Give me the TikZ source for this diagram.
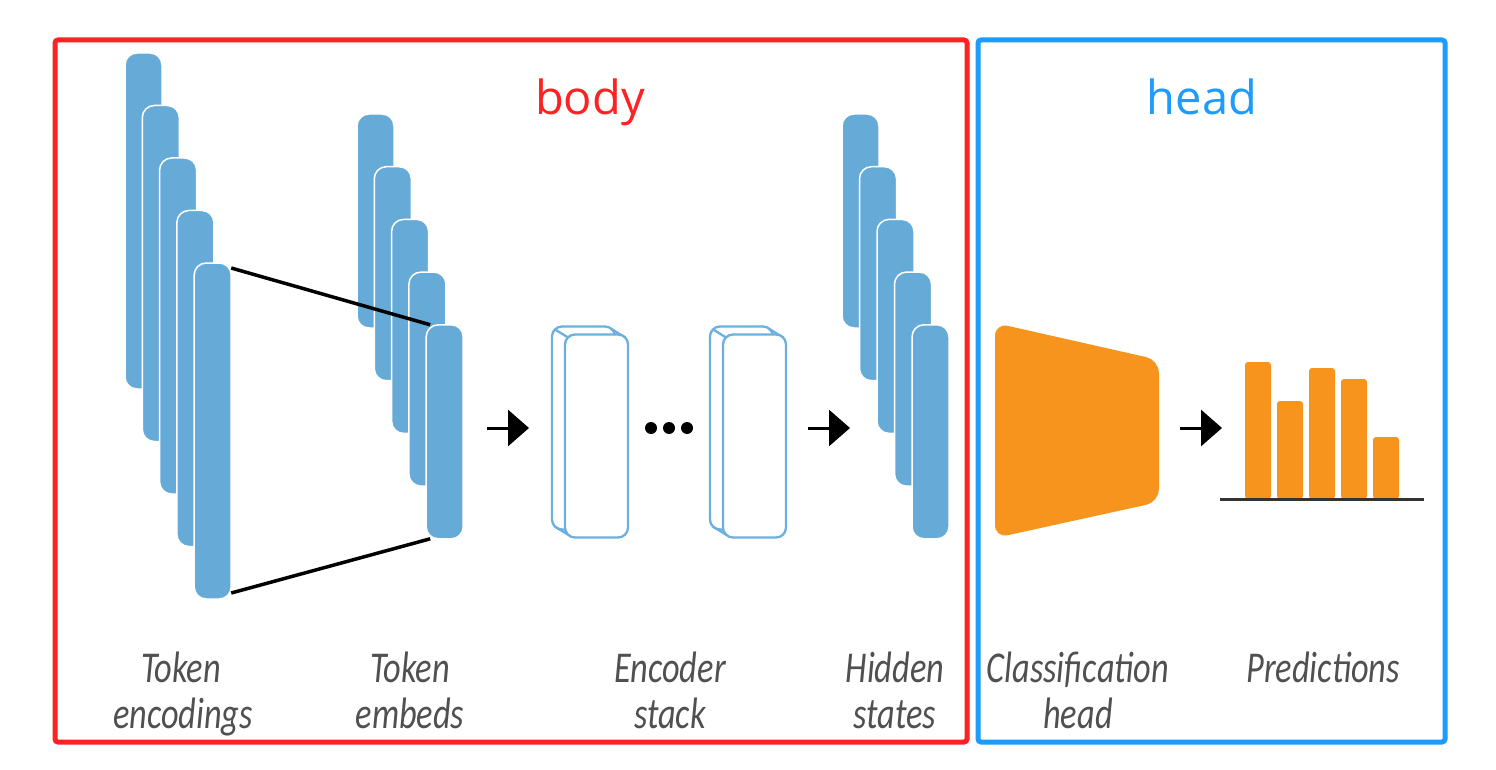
\documentclass[tikz,border=0pt]{standalone}
\usepackage{fontspec}
\usetikzlibrary{arrows.meta}
\newfontfamily\labfont[FakeStretch=0.78]{Carlito}
\newfontfamily\titlefont{Open Sans}
\definecolor{barblue}{HTML}{66ABD7}
\definecolor{encblue}{HTML}{6DB0DD}
\definecolor{framered}{HTML}{FF2222}
\definecolor{frameblue}{HTML}{1E9BFF}
\definecolor{clsorange}{HTML}{F7941D}
\definecolor{labgray}{HTML}{505050}
\definecolor{axisgray}{HTML}{333333}
\begin{document}
\begin{tikzpicture}[x=1pt,y=-1pt,
  vecbar/.style={draw=white, line width=1.5pt, fill=barblue, rounded corners=12pt,
    minimum width=37pt, inner sep=0pt, outer sep=0pt},
  encbox/.style={draw=encblue, line width=2.3pt, fill=white, rounded corners=10pt,
    minimum width=63pt, minimum height=203pt, inner sep=0pt, outer sep=0pt},
  encline/.style={draw=encblue, line width=2.3pt},
  predbar/.style={fill=clsorange, rounded corners=3pt, minimum width=26pt,
    inner sep=0pt, outer sep=0pt, anchor=south west},
  dotnode/.style={circle, fill=black, minimum size=12pt, inner sep=0pt},
  flowarrow/.style={line width=3pt, -{Triangle[length=21pt,width=36pt]}},
  link/.style={line width=3.5pt, black},
  lab/.style={font=\labfont\itshape\fontsize{44}{50}\selectfont, text=labgray,
    anchor=base, inner sep=0pt},
  ttl/.style={font=\titlefont\fontsize{47}{54}\selectfont, anchor=base, inner sep=0pt}
]
\useasboundingbox (0,0) rectangle (1496,770);
\fill[white] (0,0) rectangle (1496,770);

% frames
\draw[framered, line width=5pt, rounded corners=3pt] (55,40) rectangle (967,742);
\draw[frameblue, line width=5pt, rounded corners=3pt] (978,40) rectangle (1445,742);

\node[ttl, text=framered] (tbody) at (590,115) {body};
\node[ttl, text=frameblue] (thead) at (1202,115) {head};

% token encodings
\foreach \i in {1,...,5} {
  \node[vecbar, minimum height=336pt] (te\i) at ({143.5+17.3*(\i-1)},{221+52.5*(\i-1)}) {};
}
% token embeds
\foreach \i in {1,...,5} {
  \node[vecbar, minimum height=214pt] (em\i) at ({375.5+17.3*(\i-1)},{221+52.7*(\i-1)}) {};
}
% hidden states
\foreach \i in {1,...,5} {
  \node[vecbar, minimum height=214pt] (hs\i) at ({860.5+17.5*(\i-1)},{221+52.7*(\i-1)}) {};
}

% projection lines
\draw[link] ([yshift=-5pt]te5.north east) -- ([xshift=4pt]em5.north west);
\draw[link] ([yshift=6pt]te5.south east) -- ([xshift=4pt]em5.south west);

% encoder stack
\foreach \n/\x in {1/583.5, 2/741.5} {
  \node[encbox] (enc\n b) at (\x,428) {};
  \node[encbox, draw=none, fill=none] (enc\n) at (\x+13,436) {};
  \draw[encline] ([shift={(2.9pt,-2.9pt)}]enc\n b.north west) -- ([shift={(2.9pt,-2.9pt)}]enc\n.north west);
  \draw[encline] ([shift={(-2.9pt,-2.9pt)}]enc\n b.north east) -- ([shift={(-2.9pt,-2.9pt)}]enc\n.north east);
  \draw[encline] ([shift={(2.9pt,2.9pt)}]enc\n b.south west) -- ([shift={(2.9pt,2.9pt)}]enc\n.south west);
  \node[encbox] at (enc\n) {};
}

\node[dotnode] (d1) at (651,428) {};
\node[dotnode] (d2) at (669,428) {};
\node[dotnode] (d3) at (687,428) {};

% arrows
\draw[flowarrow] ([xshift=24pt]em5.east |- 0,428) -- ([xshift=-23pt]enc1b.west);
\draw[flowarrow] ([xshift=22pt]enc2.east |- 0,428) -- ([xshift=64pt]enc2.east |- 0,428);

% classification head
\fill[clsorange, rounded corners=13pt] (995,323) -- (1159,360) -- (1159,502) -- (995,538) -- cycle;
\coordinate (clf) at (1159,428);
\coordinate (predl) at (1222,428);
\draw[flowarrow] ([xshift=21pt]clf) -- (predl);

% predictions
\foreach \x/\t [count=\k] in {1245/362,1277/401,1309/368,1341/379,1373/437} {
  \node[predbar, minimum height={499-\t}] (p\k) at (\x,499) {};
}
\coordinate (axl) at (1220,499);
\coordinate (axr) at (1424,499);
\draw[axisgray, line width=3pt] (axl) -- (axr);

% labels
\node[lab] (l1a) at (181,682) {Token};
\node[lab] (l1b) at (183,728) {encodings};
\node[lab] (l2a) at (410,682) {Token};
\node[lab] (l2b) at (410,728) {embeds};
\node[lab] (l3a) at (670,682) {Encoder};
\node[lab] (l3b) at (670,728) {stack};
\node[lab] (l4a) at (895,682) {Hidden};
\node[lab] (l4b) at (895,728) {states};
\node[lab] (l5a) at (1078,682) {Classification};
\node[lab] (l5b) at (1078,728) {head};
\node[lab] (l6a) at (1323,682) {Predictions};
\end{tikzpicture}
\end{document}
